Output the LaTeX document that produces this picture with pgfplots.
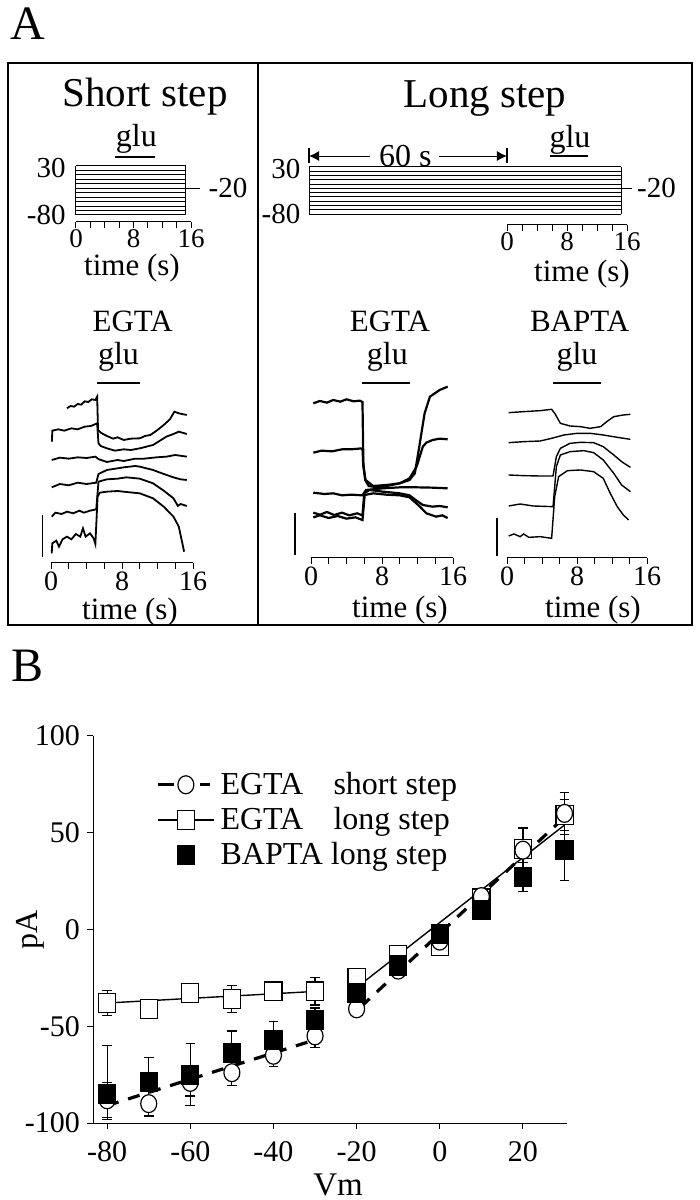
\documentclass[border=0pt]{standalone}
\usepackage{fontspec}
\setmainfont{Liberation Serif}
\usepackage{pgfplots}
\pgfplotsset{compat=1.18}
\usetikzlibrary{arrows.meta}
\newcommand\fs[1]{\fontsize{#1}{#1}\selectfont}
\pgfplotsset{
  base/.style={scale only axis, clip=false, anchor=south west,
    /pgf/number format/assume math mode=true,
    tick style={black, line width=0.5pt}, axis line style={line width=0.5pt},
    ticklabel style={font=\fs{14}}, every axis plot/.append style={black, mark=none}},
  timeax/.style={base, xmin=0, xmax=16, axis x line*=bottom, axis y line=none,
    xtick={0,8,16}, minor xtick={2,4,6,10,12,14}, tick align=outside,
    major tick length=3pt, minor tick length=3pt, xticklabel style={yshift=2pt}},
  protax/.style={timeax, xticklabel style={yshift=0.8pt, font=\fs{13.5}}},
}
\begin{document}
\begin{tikzpicture}
\path[use as bounding box] (0,0) rectangle (350pt,600pt);
\node[font=\fs{24}] at (14pt,588pt) {A};
\node[font=\fs{24}] at (14pt,267pt) {B};
\draw[line width=0.7pt] (4pt,287.5pt) rectangle (346pt,568.5pt);
\draw[line width=0.7pt] (129pt,287.5pt) -- (129pt,568.5pt);
\node[font=\fs{20.5}, anchor=base] at (72.5pt,546.5pt) {Short step};
\node[font=\fs{20.5}, anchor=base] at (242.5pt,546pt) {Long step};
% ---------- short step protocol
\begin{axis}[protax, at={(38pt,489pt)}, width=57.5pt, height=28pt, ymin=-95.7, ymax=30]
\addplot[xcomb, line width=0.5pt] coordinates {(15.3,30)(15.3,20)(15.3,10)(15.3,0)(15.3,-10)(15.3,-20)(15.3,-30)(15.3,-40)(15.3,-50)(15.3,-60)(15.3,-70)(15.3,-80)};
\addplot[line width=0.5pt] coordinates {(0,-80)(0,30)};
\addplot[line width=0.5pt] coordinates {(15.3,-80)(15.3,30)};
\addplot[line width=0.5pt] coordinates {(15.3,-20)(17.25,-20)};
\addplot[line width=0.6pt] coordinates {(5.4,50.2)(11.0,50.2)};
\node[anchor=base, font=\fs{16}] at (axis cs:8.4,72.7) {glu};
\node[anchor=east, font=\fs{14.5}, inner sep=0pt] at (axis cs:-1.4,25) {30};
\node[anchor=east, font=\fs{14.5}, inner sep=0pt] at (axis cs:-1.4,-80) {-80};
\node[anchor=west, font=\fs{14.5}, inner sep=0pt] at (axis cs:18.4,-20) {-20};
\end{axis}
\node[font=\fs{15.5}] at (66pt,466pt) {time (s)};
% ---------- long step protocol (conditioning part)
\begin{axis}[base, hide axis, at={(154.5pt,487.5pt)}, width=99pt, height=29pt, xmin=-60, xmax=0, ymin=-105.7, ymax=30]
\addplot[xcomb, line width=0.5pt] coordinates {(-60,30)(-60,20)(-60,10)(-60,0)(-60,-10)(-60,-20)(-60,-30)(-60,-40)(-60,-50)(-60,-60)(-60,-70)(-60,-80)};
\addplot[line width=0.5pt] coordinates {(-60,-80)(-60,30)};
\draw[line width=0.6pt] (axis cs:-60,39.4) -- (axis cs:-60,74.5);
\draw[line width=0.6pt] (axis cs:0,39.4) -- (axis cs:0,74.5);
\draw[line width=0.5pt, -{Latex[length=5pt,width=5pt]}] (axis cs:-41.6,55.7) -- (axis cs:-60,55.7);
\draw[line width=0.5pt, -{Latex[length=5pt,width=5pt]}] (axis cs:-20.5,55.7) -- (axis cs:0,55.7);
\node[font=\fs{16}] at (axis cs:-30.8,55.7) {60 s};
\node[anchor=east, font=\fs{14.5}, inner sep=0pt] at (axis cs:-62.5,25) {30};
\node[anchor=east, font=\fs{14.5}, inner sep=0pt] at (axis cs:-62.5,-80) {-80};
\end{axis}
% ---------- long step protocol (test part)
\begin{axis}[protax, at={(253.5pt,487.5pt)}, width=60pt, height=29pt, ymin=-105.7, ymax=30]
\addplot[xcomb, line width=0.5pt] coordinates {(15.2,30)(15.2,20)(15.2,10)(15.2,0)(15.2,-10)(15.2,-20)(15.2,-30)(15.2,-40)(15.2,-50)(15.2,-60)(15.2,-70)(15.2,-80)};
\addplot[line width=0.5pt] coordinates {(15.2,-80)(15.2,30)};
\addplot[line width=0.5pt] coordinates {(15.2,-20)(16.7,-20)};
\addplot[line width=0.6pt] coordinates {(5.7,55.7)(10.8,55.7)};
\node[anchor=base, font=\fs{16}] at (axis cs:8.4,74.5) {glu};
\node[anchor=west, font=\fs{14.5}, inner sep=0pt] at (axis cs:17.3,-20) {-20};
\end{axis}
\node[font=\fs{15.5}] at (291pt,463pt) {time (s)};
% ---------- short step EGTA traces
\begin{axis}[timeax, at={(25.5pt,318.5pt)}, width=71pt, height=91.5pt, ymin=-549, ymax=0]
\addplot[line width=0.9pt] coordinates {(1.8,-85)(2.2,-78)(2.6,-80)(3.0,-72)(3.4,-74)(3.8,-64)(4.2,-66)(4.6,-58)(5.0,-60)(5.2,-50)(5.3,-150)(5.6,-158)(6.3,-168)(7.0,-176)(7.5,-172)(8.2,-180)(9.0,-176)(10.0,-175)(10.6,-168)(11.2,-165)(12.0,-150)(12.7,-135)(13.4,-118)(13.9,-95)(14.4,-100)(15.3,-105)};
\addplot[line width=0.9pt] coordinates {(0.1,-185)(0.15,-152)(0.8,-148)(1.5,-152)(2.3,-145)(3.0,-148)(3.8,-140)(4.5,-138)(5.2,-130)(5.35,-190)(5.6,-198)(6.3,-205)(7.2,-212)(8.2,-208)(9.0,-210)(10.0,-205)(11.5,-195)(12.4,-180)(13.0,-170)(13.8,-162)(14.4,-155)(15.3,-162)};
\addplot[line width=0.9pt] coordinates {(0.08,-240)(1.0,-233)(2.0,-236)(3.0,-232)(4.0,-234)(5.0,-230)(5.4,-238)(6.3,-246)(7.5,-240)(8.2,-243)(9.5,-236)(10.5,-236)(11.9,-232)(13.0,-230)(14.0,-225)(15.3,-230)};
\addplot[line width=0.9pt] coordinates {(0.08,-322)(1.0,-312)(2.0,-316)(3.0,-308)(4.0,-312)(5.1,-308)(5.35,-282)(6.3,-270)(7.5,-265)(8.2,-262)(9.5,-258)(10.0,-260)(11.5,-270)(12.7,-282)(13.8,-292)(14.6,-298)(15.3,-300)};
\addplot[line width=0.9pt] coordinates {(0.08,-410)(0.5,-398)(1.2,-402)(1.8,-395)(2.5,-400)(3.2,-392)(3.7,-398)(4.4,-392)(5.1,-388)(5.35,-305)(6.3,-298)(7.5,-296)(8.5,-292)(10.0,-296)(11.5,-310)(12.7,-332)(13.8,-355)(14.3,-378)(14.6,-372)(15.3,-378)};
\addplot[line width=0.9pt] coordinates {(0.08,-520)(0.15,-490)(0.6,-482)(0.9,-500)(1.3,-478)(1.8,-470)(2.3,-478)(2.8,-462)(3.3,-470)(3.6,-445)(3.9,-470)(4.4,-460)(4.8,-475)(5.0,-492)(5.25,-350)(5.5,-338)(6.3,-335)(7.5,-333)(8.5,-336)(10.0,-340)(11.5,-355)(12.7,-380)(13.8,-410)(14.4,-440)(15.0,-515)};
\addplot[line width=0.6pt] coordinates {(-1.0,-405)(-1.0,-531)};
\addplot[line width=0.6pt] coordinates {(5.2,-9)(10.0,-9)};
\node[anchor=base, font=\fs{16}] at (axis cs:7.6,45) {glu};
\node[anchor=base, font=\fs{15.5}] at (axis cs:9.2,144) {EGTA};
\end{axis}
\node[font=\fs{15.5}] at (65pt,294pt) {time (s)};
% ---------- long step EGTA traces
\begin{axis}[timeax, at={(155.5pt,321pt)}, width=71pt, height=89pt, ymin=-534, ymax=0]
\addplot[line width=1.1pt] coordinates {(0.26,-70)(1.0,-63)(1.8,-68)(2.5,-60)(3.3,-65)(4.0,-58)(4.8,-64)(5.5,-62)(5.8,-66)(5.9,-250)(6.1,-300)(6.5,-318)(7.5,-322)(8.5,-318)(10.0,-310)(11.1,-300)(11.7,-280)(12.2,-200)(12.8,-100)(13.4,-50)(14.5,-30)(15.4,-20)};
\addplot[line width=1.1pt] coordinates {(0.26,-218)(1.2,-212)(2.4,-214)(3.5,-208)(4.5,-208)(5.8,-205)(5.9,-260)(6.15,-300)(7.0,-318)(8.5,-315)(10.0,-310)(11.1,-295)(11.9,-260)(12.6,-200)(13.0,-188)(13.7,-180)(14.5,-176)(15.4,-178)};
\addplot[line width=1.1pt] coordinates {(0.26,-338)(1.5,-342)(2.5,-340)(3.5,-346)(4.5,-344)(5.8,-346)(6.2,-330)(8.1,-325)(10.0,-322)(11.9,-322)(13.7,-323)(15.4,-325)};
\addplot[line width=1.1pt] coordinates {(0.26,-398)(1.0,-404)(1.8,-396)(2.6,-405)(3.5,-398)(4.3,-406)(5.2,-400)(5.8,-406)(6.0,-340)(6.6,-330)(8.1,-335)(10.0,-340)(11.1,-346)(11.9,-362)(12.6,-375)(13.7,-380)(14.5,-378)(15.4,-382)};
\addplot[line width=1.1pt] coordinates {(0.26,-412)(1.0,-406)(2.0,-414)(3.0,-408)(4.0,-416)(5.0,-412)(5.8,-420)(6.05,-345)(7.0,-340)(8.5,-344)(10.0,-346)(11.1,-352)(12.2,-378)(13.0,-400)(14.1,-410)(14.8,-406)(15.4,-414)};
\addplot[line width=0.6pt] coordinates {(-1.8,-399)(-1.8,-525)};
\addplot[line width=0.6pt] coordinates {(5.75,-9)(11.15,-9)};
\node[anchor=base, font=\fs{16}] at (axis cs:8.6,45) {glu};
\node[anchor=base, font=\fs{15.5}] at (axis cs:8.9,144) {EGTA};
\end{axis}
\node[font=\fs{15.5}] at (200pt,295pt) {time (s)};
% ---------- long step BAPTA traces
\begin{axis}[timeax, at={(253.5pt,321pt)}, width=70pt, height=89pt, ymin=-534, ymax=0]
\addplot[line width=0.7pt] coordinates {(0.19,-98)(1.9,-95)(3.8,-92)(5.1,-88)(5.5,-102)(6.1,-130)(7.2,-138)(8.4,-140)(9.5,-145)(10.7,-140)(11.4,-125)(12.2,-110)(13.3,-105)(14.1,-103)};
\addplot[line width=0.7pt] coordinates {(0.19,-188)(1.9,-185)(3.8,-183)(5.1,-175)(6.5,-165)(8.0,-160)(9.5,-160)(11.0,-165)(12.6,-172)(14.1,-178)};
\addplot[line width=0.7pt] coordinates {(0.19,-285)(1.9,-287)(3.8,-288)(5.26,-288)(5.64,-230)(6.1,-205)(7.2,-190)(8.4,-187)(9.9,-188)(11.0,-200)(12.2,-225)(13.1,-245)(14.1,-262)};
\addplot[line width=0.7pt] coordinates {(0.19,-378)(1.5,-372)(3.0,-378)(5.26,-380)(5.64,-260)(6.1,-225)(7.2,-215)(8.8,-212)(9.9,-218)(11.0,-240)(12.2,-280)(13.1,-315)(14.1,-335)};
\addplot[line width=0.7pt] coordinates {(0.19,-468)(0.8,-462)(1.5,-470)(1.9,-462)(2.5,-472)(3.8,-470)(5.1,-475)(5.45,-350)(5.9,-290)(6.9,-272)(8.4,-270)(9.9,-275)(11.0,-295)(11.8,-340)(12.6,-380)(13.3,-405)(13.9,-420)};
\addplot[line width=0.6pt] coordinates {(-1.14,-414)(-1.14,-528)};
\addplot[line width=0.6pt] coordinates {(5.26,-9)(10.74,-9)};
\node[anchor=base, font=\fs{16}] at (axis cs:8.0,45) {glu};
\node[anchor=base, font=\fs{15.5}] at (axis cs:8.3,144) {BAPTA};
\end{axis}
\node[font=\fs{15.5}] at (296.5pt,295pt) {time (s)};
% ---------- panel B
\begin{axis}[base, at={(46.5pt,38.5pt)}, width=237pt, height=193.5pt,
  xmin=-83.4, xmax=30.6, ymin=-100, ymax=100, axis lines*=left,
  xtick={-80,-60,...,20}, ytick={-100,-50,...,100}, tick align=outside, major tick length=3pt,
  ticklabel style={font=\fs{15}}, xticklabel style={yshift=-2.5pt},
  legend cell align=left,
  legend style={draw=none, fill=none, anchor=west, at={(rel axis cs:0.12,0.783)},
    font=\fs{16}, row sep=3pt, nodes={inner sep=1pt}},
  error bars/error bar style={line width=0.6pt},
  error bars/error mark options={rotate=90, mark size=2.4pt, line width=0.6pt}]
% fitted lines
\addplot[forget plot, line width=1.6pt, dash pattern=on 6pt off 5pt] coordinates {(-80,-91)(-30,-57)};
\addplot[forget plot, line width=1.6pt, dash pattern=on 6pt off 5pt] coordinates {(-19,-40)(29,56)};
\addplot[forget plot, line width=0.7pt] coordinates {(-80,-38)(-30,-32)};
\addplot[forget plot, line width=0.7pt] coordinates {(-20,-30)(30,54)};
% EGTA long step
\addplot[forget plot, only marks, mark=square*, mark size=4.3pt, mark options={fill=white, line width=0.6pt, yscale=1.1},
  error bars/.cd, y dir=both, y explicit] coordinates {
  (-80,-38) +- (0,6.5) (-70,-41) +- (0,2) (-60,-33) +- (0,3) (-50,-36) +- (0,7) (-40,-32) +- (0,3) (-30,-32) +- (0,7)
  (-20,-25) +- (0,3) (-10,-13) +- (0,2) (0,-8.5) +- (0,3) (10,16) +- (0,3) (20,41.5) +- (0,5) (30,59) +- (0,8)};
% EGTA short step
\addplot[forget plot, only marks, mark=*, mark size=4pt, mark options={fill=white, line width=0.6pt, yscale=1.12},
  error bars/.cd, y dir=both, y explicit] coordinates {
  (-80,-88) +- (0,9) (-70,-90) +- (0,6.6) (-60,-79) +- (0,7) (-50,-74) +- (0,6.5) (-40,-65) +- (0,6) (-30,-55) +- (0,6)
  (-20,-41) +- (0,4) (-10,-21) +- (0,2) (0,-6) +- (0,2) (10,17) +- (0,2) (20,41) +- (0,11.5) (30,60) +- (0,11)};
% BAPTA long step
\addplot[forget plot, only marks, mark=square*, mark size=4.3pt, mark options={fill=black, line width=0.6pt, yscale=1.1},
  error bars/.cd, y dir=both, y explicit] coordinates {
  (-80,-85) += (0,25) -= (0,13) (-70,-79) += (0,13) -= (0,17) (-60,-75) +- (0,16) (-50,-64) +- (0,11.5) (-40,-57) +- (0,9.5) (-30,-46.6) +- (0,6)
  (-20,-33) +- (0,3) (-10,-18.6) +- (0,3) (0,-2.5) +- (0,3) (10,10) +- (0,3) (20,27) +- (0,7.5) (30,41) +- (0,15.5)};
\addlegendimage{legend image code/.code={\draw[line width=1.6pt] (0pt,0pt) -- (8pt,0pt); \draw[line width=1.6pt] (21pt,0pt) -- (26pt,0pt); \draw[line width=0.6pt, fill=white] (14pt,0pt) ellipse (4pt and 4.5pt);}}
\addlegendentry{\hspace{2pt}\makebox[3.28em][l]{EGTA} short step}
\addlegendimage{legend image code/.code={\draw[line width=0.7pt] (0pt,0pt) -- (28pt,0pt); \draw[line width=0.6pt, fill=white] (9.7pt,-4.7pt) rectangle (18.3pt,4.7pt);}}
\addlegendentry{\hspace{2pt}\makebox[3.28em][l]{EGTA} long step}
\addlegendimage{legend image code/.code={\draw[line width=0.6pt, fill=black] (9.7pt,-4.7pt) rectangle (18.3pt,4.7pt);}}
\addlegendentry{\hspace{2pt}BAPTA long step}
\end{axis}
\node[font=\fs{16}, rotate=90] at (15pt,135pt) {pA};
\node[font=\fs{16.5}] at (169pt,7.5pt) {Vm};
\end{tikzpicture}
\end{document}
